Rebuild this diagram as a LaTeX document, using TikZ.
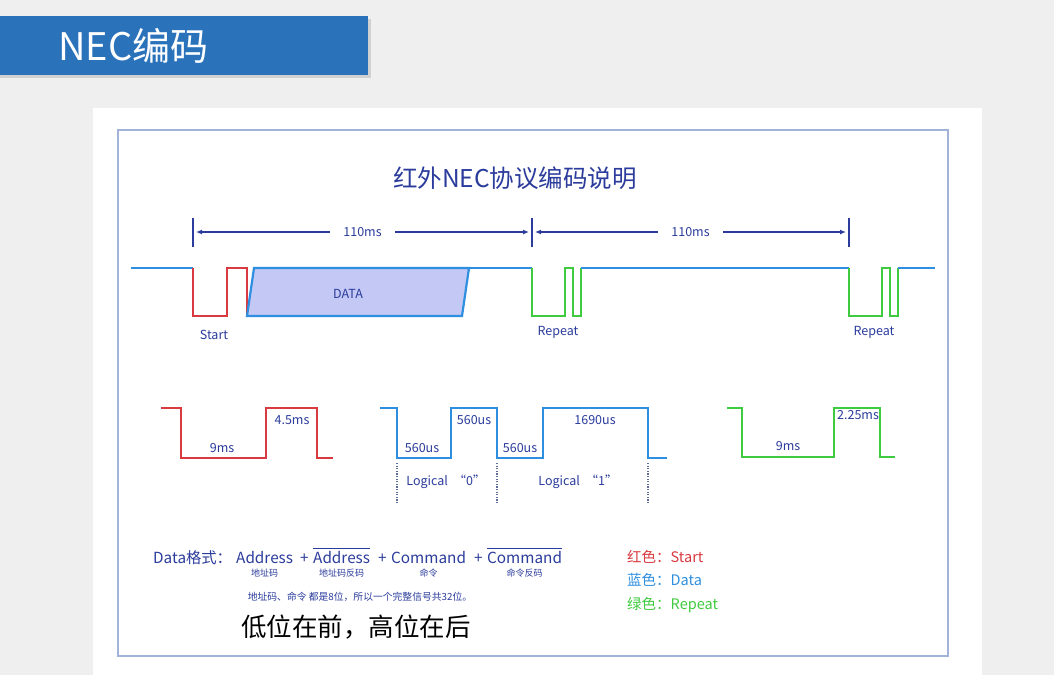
\documentclass[tikz,border=0pt]{standalone}
\usepackage{fontspec}
\setmainfont{Noto Sans CJK SC}
\usepackage{xcolor}
\usetikzlibrary{arrows.meta,positioning,calc}
\definecolor{headerblue}{HTML}{2A72BA}
\definecolor{pagegray}{HTML}{EFEFEF}
\definecolor{frameblue}{HTML}{A3B2D8}
\definecolor{textblue}{HTML}{2B3C9C}
\definecolor{wavered}{HTML}{D83A40}
\definecolor{waveblue}{HTML}{2E8FE0}
\definecolor{wavegreen}{HTML}{3FCB3F}
\definecolor{datafill}{HTML}{C3C8F5}
\definecolor{dotgray}{HTML}{5E6C98}
\newcommand{\ovl}[1]{\vbox{\hrule height 0.8pt\kern1.6pt\hbox{#1}}}
\tikzset{
  redwave/.style={draw=wavered,line width=2.2pt,line join=miter},
  bluewave/.style={draw=waveblue,line width=2.2pt,line join=miter},
  greenwave/.style={draw=wavegreen,line width=2.2pt,line join=miter},
  dimtick/.style={draw=textblue,line width=1.8pt},
  dimarrow/.style={{Latex[length=6pt,width=5pt]}-{Latex[length=6pt,width=5pt]},draw=textblue,line width=1.3pt},
  wavelabel/.style={text=textblue,font=\fontsize{12.5}{14}\selectfont,inner sep=1pt},
  fmtword/.style={text=textblue,font=\fontsize{15.3}{17}\selectfont,inner sep=0pt,anchor=base west},
  sublabel/.style={text=textblue,font=\fontsize{9}{10}\selectfont,inner sep=0pt},
  legendtext/.style={font=\fontsize{14.5}{16}\selectfont,inner sep=0pt,anchor=base west},
  bitmark/.style={draw=dotgray,line width=1.2pt,dash pattern=on 1.2pt off 1.4pt}
}
\begin{document}
\begin{tikzpicture}[x=1pt,y=-1pt]
  \useasboundingbox (0,0) rectangle (1054,675);
  \fill[pagegray] (0,0) rectangle (1054,675);
  % header bar
  \fill[black!18] (0,19) rectangle (371,78);
  \fill[headerblue] (0,16) rectangle (368,75);
  \node[anchor=west,text=white,font=\fontsize{38}{42}\selectfont,inner sep=0pt] (header) at (58,46) {NEC编码};
  % white panel and frame
  \fill[white] (93,108) rectangle (982,675);
  \draw[frameblue,line width=1.5pt] (118,130) rectangle (948,656);
  \node[text=textblue,font=\fontsize{24.5}{28}\selectfont] (title) at (515,178) {红外NEC协议编码说明};

  % 110ms periods
  \coordinate (t1) at (193,232);
  \coordinate (t2) at (532,232);
  \coordinate (t3) at (849,232);
  \foreach \t in {t1,t2,t3}
    \draw[dimtick] ($(\t)+(0,-14)$) -- ($(\t)+(0,15)$);
  \draw[dimarrow] ($(t1)+(3,0)$) -- node[fill=white,wavelabel,inner xsep=13pt] (period1) {110ms} ($(t2)+(-3,0)$);
  \draw[dimarrow] ($(t2)+(3,0)$) -- node[fill=white,wavelabel,inner xsep=13pt] (period2) {110ms} ($(t3)+(-3,0)$);

  % frame sequence
  \draw[bluewave] (131,268) -- (193,268);
  \draw[redwave] (193,268) -- (193,316) -- (227,316) -- (227,268) -- (247,268) -- (247,316);
  \draw[bluewave,fill=datafill] (247,316) -- (254,268) -- (469,268) -- (462,316) -- cycle;
  \node[wavelabel] (data) at (348,294) {DATA};
  \draw[bluewave] (469,268) -- (532,268);
  \draw[greenwave] (532,268) -- (532,316) -- (565,316) -- (565,268) -- (573,268) -- (573,316) -- (581,316) -- (581,268);
  \draw[bluewave] (581,268) -- (849,268);
  \draw[greenwave] (849,268) -- (849,316) -- (882,316) -- (882,268) -- (890,268) -- (890,316) -- (898,316) -- (898,268);
  \draw[bluewave] (898,268) -- (935,268);
  \node[wavelabel] (start) at (214,335) {Start};
  \node[wavelabel] (repeat1) at (558,332) {Repeat};
  \node[wavelabel] (repeat2) at (874,332) {Repeat};

  % start pulse
  \draw[redwave] (161,408) -- (181,408) -- (181,458) -- (266,458) -- (266,408) -- (317,408) -- (317,458) -- (333,458);
  \node[wavelabel] (start9) at (222,448) {9ms};
  \node[wavelabel] (start45) at (292,420) {4.5ms};
  % logical 0 and 1
  \draw[bluewave] (380,408) -- (397,408) -- (397,458) -- (451,458) -- (451,408) -- (497,408) -- (497,458) -- (543,458) -- (543,408) -- (648,408) -- (648,458) -- (667,458);
  \node[wavelabel] (zerolow) at (422,448) {560us};
  \node[wavelabel] (zerohigh) at (474,420) {560us};
  \node[wavelabel] (onelow) at (520,448) {560us};
  \node[wavelabel] (onehigh) at (595,420) {1690us};
  \foreach \x in {397,497,648}
    \draw[bitmark] (\x,463) -- (\x,503);
  \node[wavelabel] (logic0) at (446,482) {Logical \ “0”};
  \node[wavelabel] (logic1) at (578,482) {Logical \ “1”};
  % repeat pulse
  \draw[greenwave] (727,408) -- (742,408) -- (742,457) -- (834,457) -- (834,408) -- (880,408) -- (880,457) -- (895,457);
  \node[wavelabel] (rep9) at (788,446) {9ms};
  \node[wavelabel] (rep225) at (858,415) {2.25ms};

  % data format
  \node[fmtword] (fmt) at (153,563) {Data格式：};
  \node[fmtword] (addr) at (236,563) {Address};
  \node[fmtword] (plus1) at (300,563) {+};
  \node[fmtword] (naddr) at (313,563) {\ovl{Address}};
  \node[fmtword] (plus2) at (378,563) {+};
  \node[fmtword] (cmd) at (391,563) {Command};
  \node[fmtword] (plus3) at (474,563) {+};
  \node[fmtword] (ncmd) at (487,563) {\ovl{Command}};
  \node[sublabel,below=5pt of addr] (addrsub) {地址码};
  \node[sublabel,below=5pt of naddr] (naddrsub) {地址码反码};
  \node[sublabel,below=5pt of cmd] (cmdsub) {命令};
  \node[sublabel,below=5pt of ncmd] (ncmdsub) {命令反码};
  \node[sublabel,font=\fontsize{9.8}{11}\selectfont] (bits) at (360,597) {地址码、命令 都是8位，所以一个完整信号共32位。};
  \node[font=\fontsize{25.5}{28}\selectfont,inner sep=0pt] (order) at (356,627) {低位在前，高位在后};

  % legend
  \node[legendtext,text=wavered] (legred) at (627,562) {红色：Start};
  \node[legendtext,text=waveblue] (legblue) at (627,585) {蓝色：Data};
  \node[legendtext,text=wavegreen] (leggreen) at (627,609) {绿色：Repeat};
\end{tikzpicture}
\end{document}
